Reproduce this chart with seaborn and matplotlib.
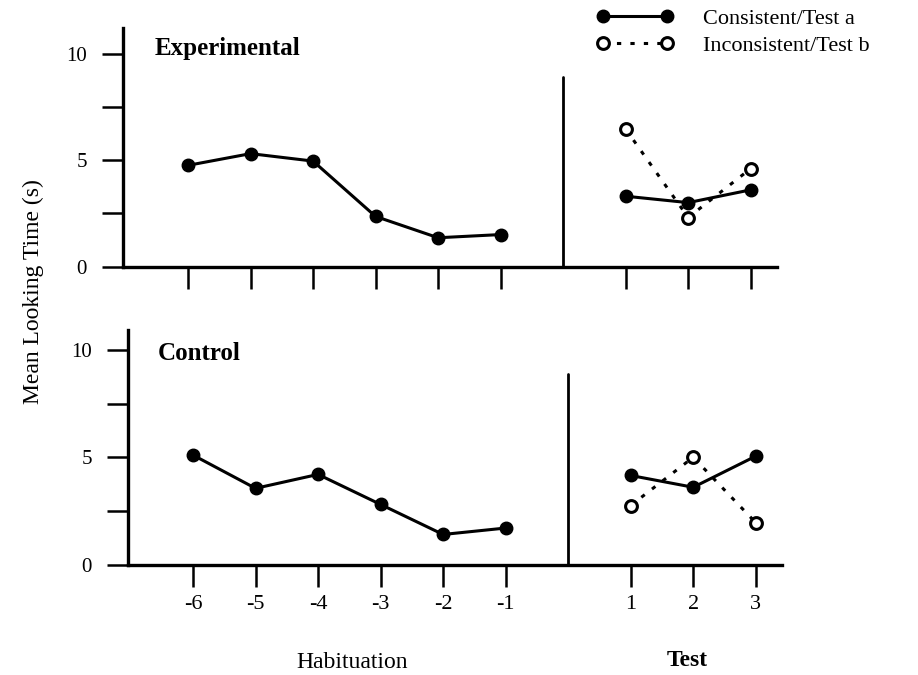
import numpy as np
import pandas as pd
import matplotlib
matplotlib.use("Agg")
import matplotlib.pyplot as plt
import seaborn as sns

# Trial labels
hab_labels = ["-6", "-5", "-4", "-3", "-2", "-1"]
test_labels = ["1", "2", "3"]

# Mean looking time (s), Experimental group
exp_hab = [4.75, 5.3, 4.95, 2.35, 1.35, 1.5]
exp_test_a = [3.3, 3.0, 3.6]
exp_test_b = [6.45, 2.3, 4.6]

# Mean looking time (s), Control group
ctl_hab = [5.1, 3.55, 4.2, 2.8, 1.4, 1.7]
ctl_test_a = [4.15, 3.6, 5.05]
ctl_test_b = [2.75, 5.0, 1.95]

sns.set_style("ticks")
plt.rcParams["font.family"] = ["Liberation Serif", "DejaVu Serif"]
plt.rcParams["text.color"] = "black"
plt.rcParams["xtick.color"] = "black"
plt.rcParams["ytick.color"] = "black"
plt.rcParams["xtick.labelcolor"] = "black"
plt.rcParams["ytick.labelcolor"] = "black"

W, H = 918, 675
fig = plt.figure(figsize=(W / 100, H / 100), dpi=100)

def fx(px):
    return px / W

def fy(py):
    return 1 - py / H

hab_pos = np.arange(len(hab_labels), dtype=float)
test_pos = len(hab_labels) + 1 + np.arange(len(test_labels), dtype=float)
sep_pos = len(hab_labels)
x_lim = (-1.04, 9.42)

# axes rectangles in pixels: left, right, y of zero line, top
panels = [
    dict(name="Experimental", left=123, right=777, y0=266.5, top=28, ymax=11.2,
         hab=exp_hab, a=exp_test_a, b=exp_test_b, show_labels=False,
         title_xy=(155, 49)),
    dict(name="Control", left=128, right=782, y0=564.5, top=329.6, ymax=10.95,
         hab=ctl_hab, a=ctl_test_a, b=ctl_test_b, show_labels=True,
         title_xy=(158, 353)),
]

solid_kw = dict(color="black", lw=2.2, marker="o", markersize=9,
                markerfacecolor="black", markeredgecolor="black", markeredgewidth=1)
open_kw = dict(color="black", lw=2.2, linestyle=(0, (1.4, 3.0)), marker="o", markersize=8.5,
               markerfacecolor="white", markeredgecolor="black", markeredgewidth=2.2)

handles = None
for p in panels:
    ax = fig.add_axes([fx(p["left"]), fy(p["y0"]), fx(p["right"] - p["left"]),
                       (p["y0"] - p["top"]) / H])
    hab_df = pd.DataFrame({"pos": hab_pos, "time": p["hab"]})
    a_df = pd.DataFrame({"pos": test_pos, "time": p["a"]})
    b_df = pd.DataFrame({"pos": test_pos, "time": p["b"]})

    sns.lineplot(data=hab_df, x="pos", y="time", ax=ax, **solid_kw)
    sns.lineplot(data=b_df, x="pos", y="time", ax=ax, **open_kw)
    sns.lineplot(data=a_df, x="pos", y="time", ax=ax, **solid_kw)

    ax.set_xlim(*x_lim)
    ax.set_ylim(0, p["ymax"])
    ax.axvline(sep_pos, ymin=0, ymax=8.9 / p["ymax"], color="black", lw=2)

    ax.set_yticks([0, 2.5, 5, 7.5, 10])
    ax.set_yticklabels(["0", "", "5", "", "10"])
    ax.set_xticks(np.concatenate([hab_pos, test_pos]))
    if p["show_labels"]:
        ax.set_xticklabels(hab_labels + test_labels)
    else:
        ax.set_xticklabels([])
    ax.tick_params(axis="y", length=15, width=1.8, pad=11, labelsize=15, color="black",
                   labelcolor="black")
    ax.tick_params(axis="x", length=16, width=1.8, pad=6, labelsize=16, color="black",
                   labelcolor="black")
    ax.set_xlabel("")
    ax.set_ylabel("")
    for side in ("top", "right"):
        ax.spines[side].set_visible(False)
    for side in ("left", "bottom"):
        ax.spines[side].set_linewidth(2.4)
        ax.spines[side].set_color("black")
    ax.patch.set_alpha(0)

    fig.text(fx(p["title_xy"][0]), fy(p["title_xy"][1]), p["name"], fontsize=18,
             fontweight="bold", ha="left", va="center", color="black")

    if handles is None:
        lines = ax.get_lines()
        handles = [lines[-2], lines[-3]]

fig.text(fx(33), fy(292), "Mean Looking Time (s)", rotation=90, fontsize=17,
         ha="center", va="center", color="black")
fig.text(fx(352), fy(662), "Habituation", fontsize=17, ha="center", va="center",
         color="black")
fig.text(fx(687), fy(660), "Test", fontsize=17, fontweight="bold", ha="center",
         va="center", color="black")

leg = fig.legend(handles=handles,
                 labels=["Consistent/Test a", "Inconsistent/Test b"],
                 loc="upper left", bbox_to_anchor=(fx(596), fy(8)), frameon=False,
                 numpoints=2, handlelength=3.5, handletextpad=1.3, borderpad=0,
                 borderaxespad=0, labelspacing=0.3, fontsize=16)
for t in leg.get_texts():
    t.set_color("black")

fig.savefig("out.png", dpi=100)
